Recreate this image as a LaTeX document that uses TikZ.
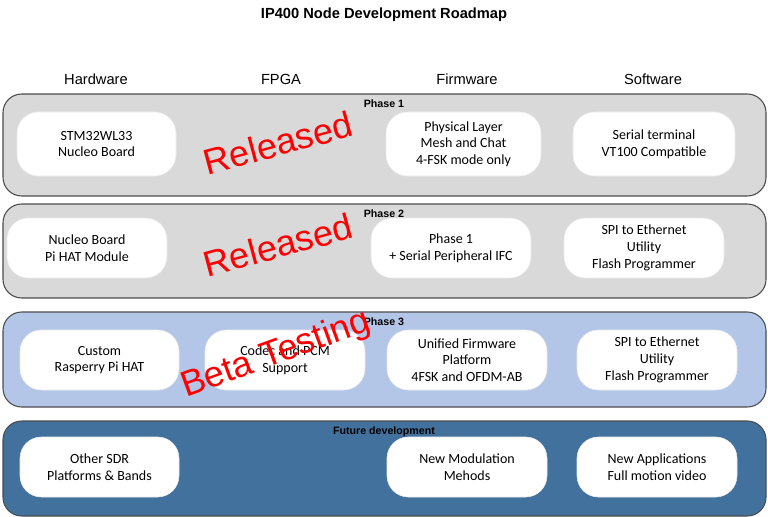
\documentclass[tikz,border=0pt]{standalone}
\usepackage{fontspec}
\setmainfont{Carlito}
\newfontfamily\arialf{Liberation Sans}
\begin{document}
\begin{tikzpicture}[x=0.75pt,y=-0.75pt,
  band/.style={draw=black!70,line width=0.8pt,rounded corners=14pt},
  item/.style={fill=white,draw=black!8,rounded corners=16pt,align=center},
  itext/.style={align=center,font=\fontsize{10.5pt}{12.5pt}\selectfont},
  head/.style={font=\arialf\fontsize{11pt}{13pt}\selectfont},
  plabel/.style={font=\arialf\bfseries\fontsize{8pt}{9pt}\selectfont},
  stamp/.style={text=red,font=\arialf\fontsize{27pt}{30pt}\selectfont}]
\useasboundingbox (0,0) rectangle (768,517);
\node[font=\arialf\bfseries\fontsize{11pt}{13pt}\selectfont] (title) at (384,15) {IP400 Node Development Roadmap};
\node[head] (h1) at (96,79) {Hardware};
\node[head] (h2) at (281,79) {FPGA};
\node[head] (h3) at (467,79) {Firmware};
\node[head] (h4) at (653,79) {Software};
\draw[band,fill=black!15] (3,94) rectangle (766,196);
\draw[band,fill=black!15] (3,204) rectangle (766,298);
\draw[band,fill={rgb,255:red,180;green,198;blue,231}] (3,312) rectangle (766,407);
\draw[band,fill={rgb,255:red,65;green,113;blue,156}] (3,421) rectangle (766,516);
\node[plabel] (p1) at (384,104) {Phase 1};
\node[plabel] (p2) at (384,214) {Phase 2};
\node[plabel] (p3) at (384,322) {Phase 3};
\node[plabel] (p4) at (384,432) {Future development};
\draw[item] (17,112) rectangle (176,176) node[midway,itext] (a1) {STM32WL33\\Nucleo Board};
\draw[item] (386,112) rectangle (541,176) node[midway,itext] (a3) {Physical Layer\\Mesh and Chat\\4-FSK mode only};
\draw[item] (573,112) rectangle (735,176) node[midway,itext] (a4) {Serial terminal\\VT100 Compatible};
\draw[item] (7,218) rectangle (167,278) node[midway,itext] (b1) {Nucleo Board\\Pi HAT Module};
\draw[item] (371,218) rectangle (531,278) node[midway,itext] (b3) {Phase 1\\+ Serial Peripheral IFC};
\draw[item] (564,218) rectangle (724,278) node[midway,itext] (b4) {SPI to Ethernet\\Utility\\Flash Programmer};
\draw[item] (20,330) rectangle (179,390) node[midway,itext] (c1) {Custom\\Rasperry Pi HAT};
\draw[item] (205,330) rectangle (365,390) node[midway,itext] (c2) {Codec and PCM\\Support};
\draw[item] (387,330) rectangle (547,390) node[midway,itext] (c3) {Unified Firmware\\Platform\\4FSK and OFDM-AB};
\draw[item] (577,330) rectangle (737,390) node[midway,itext] (c4) {SPI to Ethernet\\Utility\\Flash Programmer};
\draw[item] (20,437) rectangle (179,497) node[midway,itext] (d1) {Other SDR\\Platforms \& Bands};
\draw[item] (387,437) rectangle (547,497) node[midway,itext] (d3) {New Modulation\\Mehods};
\draw[item] (577,437) rectangle (737,497) node[midway,itext] (d4) {New Applications\\Full motion video};
\node[stamp,rotate=15] (s1) at (278,143) {Released};
\node[stamp,rotate=15] (s2) at (278,245) {Released};
\node[stamp,rotate=20] (s3) at (276,355) {Beta Testing};
\end{tikzpicture}
\end{document}
